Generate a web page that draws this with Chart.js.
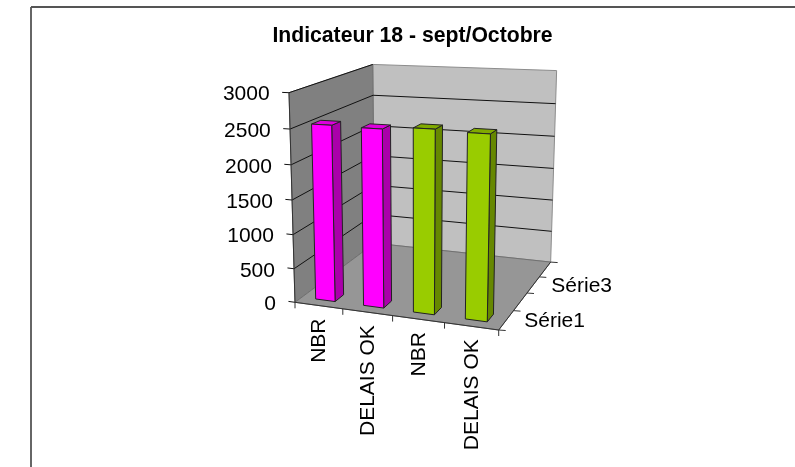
<!DOCTYPE html>
<html>
<head>
<meta charset="utf-8">
<title>Indicateur 18</title>
<script src="https://cdn.jsdelivr.net/npm/chart.js@4"></script>
<style>
body{margin:0;background:#fff}
canvas{display:block;filter:blur(0.4px)}
</style>
</head>
<body>
<canvas id="myChart" width="795" height="467"></canvas>
<script>
var categories = ['NBR', 'DELAIS OK', 'NBR', 'DELAIS OK'];
var values = [2540, 2530, 2570, 2550];
var yTicks = [0, 500, 1000, 1500, 2000, 2500, 3000];
var depthLabels = ['Série1', 'Série2', 'Série3', 'Série4'];
var faceColors = ['#ff00ff', '#ff00ff', '#99cc00', '#99cc00'];
var sideColors = ['#aa00aa', '#aa00aa', '#668800', '#668800'];
var topColors = ['#dd00dd', '#dd00dd', '#80aa00', '#80aa00'];

var FONT = '"Liberation Sans", Arial, sans-serif';

// corners of the 3d box on the page + perspective terms
var O = [295, 302.3], R = [498.7, 330], U = [289, 92.7], B = [374.5, 243.2];
var pg = -0.08, ph = -0.047, pi = 0.18;

function project(u, v, w) {
    var d = 1 + pg * u + ph * v + pi * w;
    var p = [];
    for (var k = 0; k < 2; k++) {
        var a = R[k] * (1 + pg) - O[k];
        var b = U[k] * (1 + ph) - O[k];
        var c = B[k] * (1 + pi) - O[k];
        p.push((O[k] + a * u + b * v + c * w) / d);
    }
    return p;
}

function poly(ctx, pts, fill, stroke) {
    ctx.beginPath();
    pts.forEach(function (p, i) {
        if (i == 0) ctx.moveTo(p[0], p[1]); else ctx.lineTo(p[0], p[1]);
    });
    ctx.closePath();
    ctx.fillStyle = fill;
    ctx.fill();
    if (stroke) {
        ctx.strokeStyle = stroke;
        ctx.lineWidth = 1;
        ctx.lineJoin = 'round';
        ctx.stroke();
    }
}

function line(ctx, a, b, color, width) {
    ctx.beginPath();
    ctx.moveTo(a[0], a[1]);
    ctx.lineTo(b[0], b[1]);
    ctx.strokeStyle = color;
    ctx.lineWidth = width || 1;
    ctx.stroke();
}

// flat scale pixels -> 0..1 box coordinates
function toU(chart, px) { return (px - chart.chartArea.left) / chart.chartArea.width; }
function toV(chart, py) { return (chart.chartArea.bottom - py) / chart.chartArea.height; }

var box3d = {
    id: 'box3d',
    beforeDraw: function (chart) {
        var ctx = chart.ctx;
        // frame of the picture
        ctx.save();
        line(ctx, [31, 467], [31, 7], '#666666', 2);
        line(ctx, [31, 7], [795, 7], '#555555', 2);
        ctx.restore();
    },
    beforeDatasetsDraw: function (chart) {
        var ctx = chart.ctx, x = chart.scales.x, y = chart.scales.y;
        ctx.save();
        poly(ctx, [project(0, 0, 1), project(1, 0, 1), project(1, 1, 1), project(0, 1, 1)], '#c0c0c0', '#8c8c8c');
        poly(ctx, [project(0, 0, 0), project(0, 0, 1), project(0, 1, 1), project(0, 1, 0)], '#808080', '#707070');
        poly(ctx, [project(0, 0, 0), project(1, 0, 0), project(1, 0, 1), project(0, 0, 1)], '#969696', '#707070');

        // value gridlines, ticks and labels
        ctx.font = '21px ' + FONT;
        ctx.fillStyle = '#000';
        yTicks.forEach(function (t) {
            var v = toV(chart, y.getPixelForValue(t));
            if (t > 0) {
                line(ctx, project(0, v, 0), project(0, v, 1), '#111');
                if (t < 3000) line(ctx, project(0, v, 1), project(1, v, 1), '#111');
            }
            var a = project(0, v, 0), e = project(-0.035, v, 0);
            line(ctx, a, e, '#111');
            ctx.fillStyle = '#000';
            ctx.textAlign = 'right';
            ctx.textBaseline = 'middle';
            ctx.fillText(String(t), e[0] - 12.5, a[1] + 2);
        });

        // category ticks and rotated labels
        line(ctx, project(0, 0, 0), project(0, 1, 0), '#333');
        line(ctx, project(0, 0, 0), project(1, 0, 0), '#333');
        line(ctx, project(1, 0, 0), project(1, 0, 1), '#333');
        for (var i = 0; i <= categories.length; i++) {
            var p = project(i / categories.length, 0, 0);
            line(ctx, p, [p[0], p[1] + 6], '#333');
        }
        categories.forEach(function (c, i) {
            var p = project(toU(chart, x.getPixelForTick(i)), 0, 0);
            ctx.save();
            ctx.translate(p[0] + 1, p[1] + 13);
            ctx.rotate(-Math.PI / 2);
            ctx.textAlign = 'right';
            ctx.textBaseline = 'middle';
            ctx.fillStyle = '#000';
            ctx.fillText(c, 0, 0);
            ctx.restore();
        });

        // depth axis, every second label only
        for (var j = 0; j <= depthLabels.length; j++) {
            var q = project(1, 0, j / depthLabels.length);
            line(ctx, q, [q[0] + 7, q[1] + 0.5], '#333');
        }
        depthLabels.forEach(function (s, i) {
            if (i % 2) return;
            var q = project(1, 0, (i + 0.5) / depthLabels.length);
            ctx.textAlign = 'left';
            ctx.textBaseline = 'middle';
            ctx.fillStyle = '#000';
            ctx.fillText(s, q[0] + 18, q[1] + 1);
        });
        ctx.restore();
    },
    beforeDatasetDraw: function (chart, args) {
        var ctx = chart.ctx;
        // bar sits in the first depth category, same gap as the category axis
        var w0 = 0.25 * 0.3, w1 = 0.25 * 0.7;
        ctx.save();
        args.meta.data.forEach(function (bar, i) {
            var half = bar.width / 2;
            var u0 = toU(chart, bar.x - half), u1 = toU(chart, bar.x + half);
            var v0 = toV(chart, bar.base), v1 = toV(chart, bar.y);
            poly(ctx, [project(u1, v0, w0), project(u1, v0, w1), project(u1, v1, w1), project(u1, v1, w0)], sideColors[i], '#222');
            poly(ctx, [project(u0, v1, w0), project(u1, v1, w0), project(u1, v1, w1), project(u0, v1, w1)], topColors[i], '#222');
            poly(ctx, [project(u0, v0, w0), project(u1, v0, w0), project(u1, v1, w0), project(u0, v1, w0)], faceColors[i], '#222');
        });
        ctx.restore();
        return false;
    }
};

var ctx = document.getElementById('myChart').getContext('2d');
var chart = new Chart(ctx, {
    type: 'bar',
    data: {
        labels: categories,
        datasets: [{
            label: 'Série1',
            data: values,
            backgroundColor: faceColors,
            barPercentage: 0.41,
            categoryPercentage: 1
        }]
    },
    options: {
        responsive: false,
        animation: false,
        layout: { padding: { left: 50, right: 20, top: 21, bottom: 20 } },
        plugins: {
            legend: { display: false },
            tooltip: { enabled: false },
            title: {
                display: true,
                text: 'Indicateur 18 - sept/Octobre',
                color: '#000',
                font: { family: FONT, size: 21.2, weight: 'bold' },
                padding: { top: 2, bottom: 10 }
            }
        },
        scales: {
            x: { display: false },
            y: { display: false, min: 0, max: 3000 }
        }
    },
    plugins: [box3d]
});
</script>
</body>
</html>
